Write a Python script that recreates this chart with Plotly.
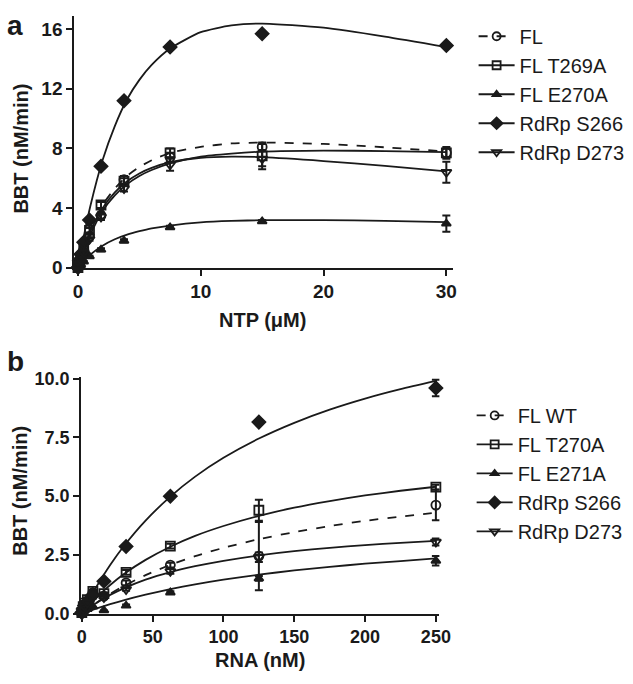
import plotly.graph_objects as go

# ---------------- Panel a data ----------------
NTP = [0, 0.117, 0.234, 0.469, 0.938, 1.875, 3.75, 7.5, 15, 30]
FL_a = [0, 0.3, 0.6, 1.2, 2.1, 3.5, 5.9, 7.4, 8.1, 7.7]
FL_a_err = [0, 0.05, 0.05, 0.1, 0.15, 0.2, 0.25, 0.3, 0.2, 0.3]
T269A = [0, 0.3, 0.6, 1.3, 2.5, 4.2, 5.8, 7.7, 7.5, 7.7]
T269A_err = [0, 0.05, 0.05, 0.1, 0.15, 0.2, 0.2, 0.3, 0.9, 0.4]
E270A = [0, 0.1, 0.2, 0.4, 0.75, 1.2, 1.8, 2.7, 3.1, 2.95]
E270A_err = [0, 0, 0, 0.05, 0.05, 0.1, 0.1, 0.1, 0.1, 0.55]
S266_a = [0, 0.5, 0.9, 1.7, 3.2, 6.8, 11.2, 14.8, 15.7, 14.9]
S266_a_err = [0, 0, 0, 0, 0.1, 0.1, 0.1, 0.1, 0.1, 0.1]
D273_a = [0, 0.25, 0.5, 1.0, 1.9, 3.4, 5.3, 6.9, 7.3, 6.4]
D273_a_err = [0, 0.05, 0.05, 0.1, 0.1, 0.2, 0.2, 0.4, 0.5, 0.7]

# fitted curves
curve_x_a = [0, 0.5, 1, 2, 3, 4, 5, 6, 7.5, 10, 12.5, 15, 20, 25, 30]
FL_a_fit = [0, 1.4, 2.5, 4.2, 5.3, 6.15, 6.75, 7.2, 7.7, 8.1, 8.33, 8.39, 8.3, 8.07, 7.79]
T269A_fit = [0, 1.2, 2.2, 3.8, 4.85, 5.6, 6.15, 6.55, 7.0, 7.45, 7.65, 7.78, 7.85, 7.82, 7.75]
E270A_fit = [0, 0.48, 0.87, 1.47, 1.9, 2.21, 2.44, 2.63, 2.82, 3.03, 3.13, 3.18, 3.19, 3.14, 3.05]
S266_a_fit = [0, 2.2, 4.1, 7.2, 9.5, 11.3, 12.6, 13.6, 14.7, 15.8, 16.25, 16.38, 16.1, 15.5, 14.8]
D273_a_fit = [0, 1.35, 2.42, 3.99, 5.05, 5.79, 6.32, 6.69, 7.07, 7.37, 7.45, 7.41, 7.15, 6.82, 6.46]

# ---------------- Panel b data ----------------
RNA = [0, 0.98, 1.95, 3.9, 7.8, 15.6, 31.25, 62.5, 125, 250]
WT_b = [0.05, 0.25, 0.4, 0.55, 0.9, 0.75, 1.31, 2.07, 2.45, 4.62]
WT_b_err = [0, 0.05, 0.05, 0.05, 0.1, 0.1, 0.1, 0.1, 1.45, 0.65]
T270A = [0.05, 0.3, 0.45, 0.6, 0.95, 0.85, 1.76, 2.87, 4.4, 5.38]
T270A_err = [0, 0.05, 0.05, 0.05, 0.05, 0.05, 0.1, 0.1, 0.45, 0.1]
E271A = [0.0, 0.1, 0.15, 0.2, 0.3, 0.14, 0.34, 0.9, 1.5, 2.25]
E271A_err = [0, 0, 0, 0, 0, 0, 0.05, 0.05, 0.1, 0.2]
S266_b = [0.05, 0.2, 0.35, 0.5, 0.8, 1.38, 2.86, 5.0, 8.15, 9.6]
S266_b_err = [0, 0, 0, 0, 0, 0.05, 0.05, 0.05, 0.1, 0.35]
D273_b = [0.0, 0.2, 0.3, 0.45, 0.7, 0.69, 1.03, 1.8, 2.4, 3.05]
D273_b_err = [0, 0, 0, 0, 0.05, 0.05, 0.05, 0.1, 0.2, 0.15]

curve_x_b = [0, 5, 10, 20, 30, 45, 62.5, 80, 100, 125, 150, 175, 200, 225, 250]
WT_b_fit = [0, 0.233, 0.451, 0.844, 1.19, 1.64, 2.08, 2.45, 2.80, 3.17, 3.47, 3.73, 3.95, 4.13, 4.30]
T270A_fit = [0, 0.346, 0.663, 1.22, 1.70, 2.29, 2.85, 3.31, 3.73, 4.16, 4.51, 4.79, 5.03, 5.23, 5.40]
E271A_fit = [0, 0.110, 0.214, 0.406, 0.58, 0.81, 1.045, 1.25, 1.45, 1.66, 1.84, 1.99, 2.13, 2.24, 2.35]
S266_b_fit = [0, 0.578, 1.113, 2.07, 2.90, 3.96, 4.98, 5.83, 6.63, 7.45, 8.12, 8.68, 9.15, 9.55, 9.9]
D273_b_fit = [0, 0.234, 0.443, 0.80, 1.09, 1.45, 1.77, 2.02, 2.25, 2.48, 2.66, 2.80, 2.92, 3.01, 3.10]

labels_a = ["FL", "FL T269A", "FL E270A", "RdRp S266", "RdRp D273"]
labels_b = ["FL WT", "FL T270A", "FL E271A", "RdRp S266", "RdRp D273"]

INK = "#1a1a1a"
FONT = "Arial, Liberation Sans, Helvetica, sans-serif"

styles = [
    dict(symbol="circle-open", size=9, dash="dash"),
    dict(symbol="square-open", size=9, dash="solid"),
    dict(symbol="triangle-up", size=8, dash="solid"),
    dict(symbol="diamond", size=10, dash="solid"),
    dict(symbol="triangle-down-open", size=9, dash="solid"),
]

fig = go.Figure()

def add_panel(xdata, ys, errs, cx, fits, labels, xa, ya, legend):
    for st, y, e, f, lab in zip(styles, ys, errs, fits, labels):
        fig.add_trace(go.Scatter(
            x=cx, y=f, mode="lines", line=dict(color=INK, width=1.8, dash=st["dash"], shape="spline", smoothing=0.6),
            xaxis=xa, yaxis=ya, showlegend=False, hoverinfo="skip", cliponaxis=False))
        fig.add_trace(go.Scatter(
            x=xdata, y=y, mode="markers",
            marker=dict(symbol=st["symbol"], size=st["size"], color=INK, line=dict(color=INK, width=1.8)),
            error_y=dict(type="data", array=e, visible=True, color=INK, thickness=2, width=4),
            xaxis=xa, yaxis=ya, showlegend=False, cliponaxis=False))
        # legend entry (line + marker)
        fig.add_trace(go.Scatter(
            x=[None], y=[None], mode="lines+markers", name=lab,
            line=dict(color=INK, width=1.8, dash=st["dash"]),
            marker=dict(symbol=st["symbol"], size=st["size"] - 1, color=INK, line=dict(color=INK, width=1.8)),
            xaxis=xa, yaxis=ya, legend=legend))

add_panel(NTP, [FL_a, T269A, E270A, S266_a, D273_a],
          [FL_a_err, T269A_err, E270A_err, S266_a_err, D273_a_err],
          curve_x_a, [FL_a_fit, T269A_fit, E270A_fit, S266_a_fit, D273_a_fit],
          labels_a, "x", "y", "legend")
add_panel(RNA, [WT_b, T270A, E271A, S266_b, D273_b],
          [WT_b_err, T270A_err, E271A_err, S266_b_err, D273_b_err],
          curve_x_b, [WT_b_fit, T270A_fit, E271A_fit, S266_b_fit, D273_b_fit],
          labels_b, "x2", "y2", "legend2")

W, H = 633, 684
def px(v):
    return v / W
def py(v):
    return 1 - v / H

def axis_style(size):
    return dict(showline=True, linewidth=2, linecolor=INK, ticks="outside", ticklen=6,
                tickwidth=2, tickcolor=INK, showgrid=False, zeroline=False,
                tickfont=dict(family=FONT, size=size, color=INK, weight="bold"))

fig.update_layout(
    width=W, height=H, margin=dict(l=0, r=0, t=0, b=0),
    plot_bgcolor="white", paper_bgcolor="white",
    xaxis=dict(domain=[px(72), px(460)], range=[-0.3, 30.55], tickvals=[0, 10, 20, 30],
               anchor="y", **axis_style(19)),
    yaxis=dict(domain=[py(267), py(8)], range=[0, 16.9], tickvals=[0, 4, 8, 12, 16],
               anchor="x", **axis_style(19)),
    xaxis2=dict(domain=[px(79), px(446)], range=[-0.5, 252.5], tickvals=[0, 50, 100, 150, 200, 250],
                anchor="y2", **axis_style(18)),
    yaxis2=dict(domain=[py(623), py(380)], range=[0, 10.05], tickvals=[0, 2.5, 5, 7.5, 10],
                ticktext=["0.0", "2.5", "5.0", "7.5", "10.0"], anchor="x2", **axis_style(18)),
    legend=dict(x=px(481), y=py(9), xanchor="left", yanchor="top", tracegroupgap=0,
                font=dict(family=FONT, size=20, color=INK), itemwidth=36, bgcolor="rgba(0,0,0,0)"),
    legend2=dict(x=px(479), y=py(399), xanchor="left", yanchor="top", tracegroupgap=0,
                 font=dict(family=FONT, size=20, color=INK), itemwidth=36, bgcolor="rgba(0,0,0,0)"),
    showlegend=True,
)

ann = [
    dict(text="a", x=px(1), y=py(0), xanchor="left", yanchor="top", font=dict(size=28, weight="bold")),
    dict(text="b", x=px(1), y=py(346), xanchor="left", yanchor="top", font=dict(size=28, weight="bold")),
    dict(text="BBT (nM/min)", x=px(17), y=py(145), textangle=-90, xanchor="center", yanchor="middle",
         font=dict(size=20, weight="bold")),
    dict(text="BBT (nM/min)", x=px(17), y=py(497), textangle=-90, xanchor="center", yanchor="middle",
         font=dict(size=20, weight="bold")),
    dict(text="NTP (μM)", x=px(265), y=py(321), xanchor="center", yanchor="middle",
         font=dict(size=20, weight="bold")),
    dict(text="RNA (nM)", x=px(262), y=py(671), xanchor="center", yanchor="middle",
         font=dict(size=20, weight="bold")),
]
for a in ann:
    a["font"] = dict(family=FONT, color=INK, **a["font"])
    fig.add_annotation(xref="paper", yref="paper", showarrow=False, **a)

fig.write_html("out.html", config={"displayModeBar": False},
               post_script="document.body.style.margin='0';document.body.style.overflow='hidden';")
